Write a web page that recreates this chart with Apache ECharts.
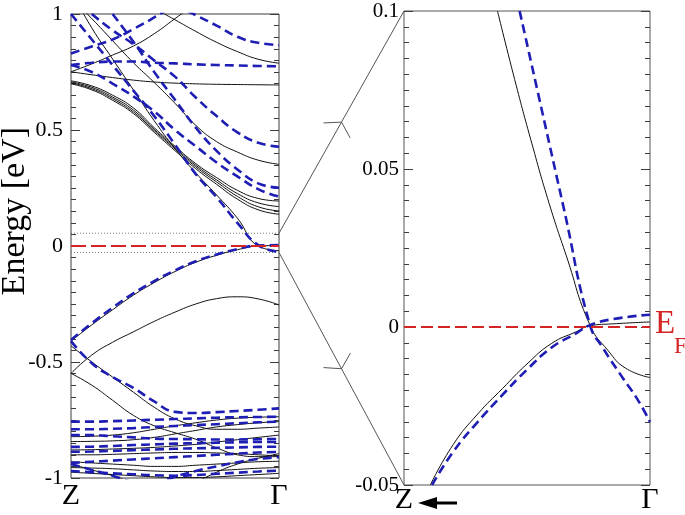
<!DOCTYPE html>
<html><head><meta charset="utf-8">
<script src="https://cdn.jsdelivr.net/npm/echarts@6/dist/echarts.min.js"></script>
<style>html,body{margin:0;padding:0;background:#fff}#c{width:685px;height:515px}</style>
</head><body><div id="c"></div>
<script>
// ---------- data: left panel (k from Z=0 to Gamma=1) ----------
const K = [0, 0.1, 0.2, 0.3, 0.4, 0.5, 0.6, 0.7, 0.8, 0.9, 1.0];
const X_LABELS = ['Z', 'Γ'];
const LEFT_TICKS = [-1, -0.5, 0, 0.5, 1];
const RIGHT_TICKS = [-0.05, 0, 0.05, 0.1];
const FERMI = 0;
const BOX = [0.055, -0.028];

// black (solid) bands
const B1  = [0.751, 0.785, 0.823, 0.862, 0.915, 0.98, 1.045, 1.11, null, null, null];
const B2  = [null, null, null, 1.08, 1.025, 0.975, 0.925, 0.878, 0.838, 0.805, 0.788];
const B3  = [0.751, 0.738, 0.726, 0.715, 0.707, 0.702, 0.699, 0.697, 0.696, 0.695, 0.694];
const L1  = [0.712, 0.69, 0.65, 0.595, 0.51, 0.43, 0.355, 0.295, 0.24, 0.205, 0.194];
const L2  = [0.707, 0.684, 0.642, 0.586, 0.503, 0.424, 0.348, 0.285, 0.226, 0.186, 0.17];
const L3  = [0.703, 0.678, 0.635, 0.578, 0.497, 0.418, 0.341, 0.276, 0.214, 0.169, 0.151];
const L4  = [0.699, 0.673, 0.628, 0.571, 0.49, 0.411, 0.333, 0.266, 0.202, 0.156, 0.137];
const B5  = [1.07, 0.98, 0.885, 0.79, 0.705, 0.615, 0.52, 0.45, 0.405, 0.37, 0.352];
const CB  = [1.1, 0.94, 0.806, 0.673, 0.54, 0.42, 0.315, 0.22, 0.12, 0.0, -0.02];
const VB1 = [-0.41, -0.34, -0.275, -0.212, -0.158, -0.11, -0.07, -0.04, -0.016, 0.0, 0.002];
const VB2 = [-0.549, -0.47, -0.415, -0.37, -0.325, -0.285, -0.25, -0.227, -0.219, -0.228, -0.254];
const VB3 = [-0.43, -0.50, -0.565, -0.63, -0.695, -0.745, -0.775, -0.79, -0.79, -0.785, -0.78];
const VB4 = [-0.549, -0.60, -0.665, -0.73, -0.775, -0.805, -0.833, -0.87, -0.9, -0.908, -0.908];
const K1  = [-0.822, -0.82, -0.815, -0.805, -0.79, -0.775, -0.762, -0.75, -0.742, -0.738, -0.736];
const K2  = [-0.843, -0.842, -0.84, -0.835, -0.825, -0.81, -0.795, -0.78, -0.77, -0.762, -0.757];
const K3  = [-0.879, -0.878, -0.875, -0.872, -0.868, -0.862, -0.855, -0.845, -0.835, -0.825, -0.815];
const K4  = [-0.90, -0.90, -0.898, -0.895, -0.892, -0.89, -0.89, -0.892, -0.895, -0.9, -0.905];
const K5  = [null, null, null, null, null, null, -1.02, -0.975, -0.94, -0.915, -0.895];
const K6  = [-0.93, -0.935, -0.94, -0.945, -0.95, -0.95, -0.945, -0.94, -0.935, -0.93, -0.928];
const K7  = [-0.955, -0.957, -0.96, -0.965, -0.97, -0.972, -0.972, -0.968, -0.963, -0.958, -0.955];
const K8  = [-0.975, -0.98, -0.985, -0.99, -0.995, -0.998, -0.998, -0.995, -0.99, -0.985, -0.98];
const K9  = [-0.94, -0.965, -0.99, -1.02, null, null, null, null, null, null, null];

// blue (dashed) bands
const D1  = [0.83, 0.86, 0.89, 0.935, 0.985, 1.04, null, null, null, null, null];
const D2  = [null, null, null, null, null, 1.04, 0.995, 0.95, 0.902, 0.876, 0.866];
const D3  = [0.78, 0.79, 0.795, 0.795, 0.79, 0.787, 0.783, 0.78, 0.778, 0.776, 0.775];
const D4  = [null, 1.0, 0.93, 0.87, 0.80, 0.73, 0.64, 0.56, 0.49, 0.445, 0.428];
const D5  = [0.78, 0.75, 0.70, 0.645, 0.58, 0.50, 0.43, 0.36, 0.30, 0.245, 0.213];
const D6  = [null, null, 1.0, 0.88, 0.75, 0.63, 0.51, 0.41, 0.33, 0.27, 0.251];
const D7  = [1.0, 0.89, 0.78, 0.67, 0.56, 0.437, 0.31, 0.21, 0.10, 0.004, -0.025];
const DV1 = [-0.405, -0.333, -0.266, -0.204, -0.151, -0.105, -0.066, -0.037, -0.013, 0.002, 0.004];
const DV3 = [-0.41, -0.505, -0.565, -0.612, -0.67, -0.715, -0.72, -0.716, -0.711, -0.706, -0.70];
const BL1 = [-0.757, -0.757, -0.755, -0.752, -0.749, -0.746, -0.743, -0.74, -0.738, -0.737, -0.736];
const BL2 = [-0.79, -0.79, -0.788, -0.785, -0.78, -0.776, -0.772, -0.768, -0.764, -0.76, -0.757];
const BL3 = [-0.866, -0.865, -0.862, -0.858, -0.855, -0.852, -0.85, -0.848, -0.846, -0.845, -0.845];
const BL4 = [-0.887, -0.886, -0.883, -0.88, -0.877, -0.874, -0.872, -0.87, -0.868, -0.866, -0.865];
const BL5 = [-0.935, -0.93, -0.925, -0.92, -0.915, -0.91, -0.905, -0.9, -0.895, -0.89, -0.888];
const BL6 = [-0.94, -0.965, -0.99, -1.02, null, null, null, null, null, null, null];
const BL7 = [null, null, null, null, -1.03, -0.995, -0.97, -0.95, -0.932, -0.918, -0.91];
const BL8 = [-0.97, -0.975, -0.98, -0.984, -0.988, -0.99, -0.987, -0.982, -0.977, -0.972, -0.968];
const BL9 = [-0.815, -0.815, -0.82, -0.825, -0.83, -0.832, -0.833, -0.834, -0.834, -0.833, -0.832];

// ---------- data: right panel (zoom near Gamma) ----------
const R_CB_K  = [0.38, 0.45, 0.52, 0.59, 0.66, 0.756, 0.83, 0.9, 1.0];
const R_CB_E  = [0.1, 0.0783, 0.058, 0.0391, 0.0225, 0.0006, -0.0075, -0.013, -0.016];
const R_VB_K  = [0.107, 0.2, 0.3, 0.4, 0.5, 0.6, 0.7, 0.756, 0.85, 1.0];
const R_VB_E  = [-0.05, -0.0372, -0.0275, -0.0195, -0.0117, -0.0052, -0.0015, 0.0004, 0.001, 0.0016];
const R_DCB_K = [0.47, 0.55, 0.65, 0.756, 0.81, 0.89, 0.946, 1.0];
const R_DCB_E = [0.1, 0.0722, 0.0374, 0.0006, -0.0068, -0.0162, -0.0225, -0.030];
const R_DVB_K = [0.114, 0.2, 0.3, 0.4, 0.5, 0.6, 0.7, 0.756, 0.85, 1.0];
const R_DVB_E = [-0.05, -0.0395, -0.03, -0.0215, -0.0135, -0.0065, -0.002, 0.0006, 0.0025, 0.0039];

const BLACK_LEFT = [B1, B2, B3, L1, L2, L3, L4, B5, CB, VB1, VB2, VB3, VB4, K1, K2, K3, K4, K5, K6, K7, K8, K9];
const BLUE_LEFT = [D1, D2, D3, D4, D5, D6, D7, DV1, DV3, BL1, BL2, BL3, BL4, BL5, BL6, BL7, BL8, BL9];

// ---------- styling ----------
const SERIF = '"Liberation Serif", "DejaVu Serif", serif';
const BLACK = '#111111';
const BLUE = '#1e1eb4';
const RED = '#d42424';
const FRAME = '#3c3c3c';

function pairs(xs, ys) {
  const out = [];
  for (let i = 0; i < xs.length; i++) if (ys[i] != null) out.push([xs[i], ys[i]]);
  return out;
}
function blackLine(xs, ys, xi, yi) {
  return { type: 'line', xAxisIndex: xi, yAxisIndex: yi, data: pairs(xs, ys), symbol: 'none',
    smooth: 0.5, clip: true, silent: true, z: 2,
    lineStyle: { color: BLACK, width: 1 } };
}
function blueLine(xs, ys, xi, yi) {
  return { type: 'line', xAxisIndex: xi, yAxisIndex: yi, data: pairs(xs, ys), symbol: 'none',
    smooth: 0.5, clip: true, silent: true, z: 3,
    lineStyle: { color: BLUE, width: 2.6, type: [9, 5] } };
}
function flatLine(y, xi, yi, style, z) {
  return { type: 'line', xAxisIndex: xi, yAxisIndex: yi, data: [[K[0], y], [K[K.length - 1], y]],
    symbol: 'none', silent: true, z: z, lineStyle: style };
}

const series = [];
BLACK_LEFT.forEach(b => series.push(blackLine(K, b, 0, 0)));
BLUE_LEFT.forEach(b => series.push(blueLine(K, b, 0, 0)));
BOX.forEach(v => series.push(flatLine(v, 0, 0, { color: '#777', width: 1, type: [1, 2] }, 1)));
series.push(flatLine(FERMI, 0, 0, { color: RED, width: 2, type: [15, 5] }, 5));
series.push(blackLine(R_CB_K, R_CB_E, 1, 2));
series.push(blackLine(R_VB_K, R_VB_E, 1, 2));
series.push(blueLine(R_DCB_K, R_DCB_E, 1, 2));
series.push(blueLine(R_DVB_K, R_DVB_E, 1, 2));
series.push(flatLine(FERMI, 1, 2, { color: RED, width: 2, type: [12, 5] }, 5));

function yAxisDef(grid, min, max, interval, pos, showLabel) {
  return {
    gridIndex: grid, type: 'value', min: min, max: max, interval: interval, position: pos,
    axisLine: { show: false },
    axisTick: { show: true, inside: true, length: 9, lineStyle: { color: FRAME, width: 1 } },
    minorTick: { show: true, splitNumber: 10, length: 5, lineStyle: { color: FRAME, width: 1 } },
    splitLine: { show: false }, minorSplitLine: { show: false },
    axisLabel: { show: showLabel, fontFamily: SERIF, fontSize: grid === 0 ? 22 : 21, color: '#000', margin: grid === 0 ? 8 : 5 }
  };
}
function xAxisDef(grid, margin) {
  return {
    gridIndex: grid, type: 'value', min: K[0], max: K[K.length - 1], interval: 1,
    axisLine: { show: false }, axisTick: { show: false }, splitLine: { show: false },
    axisLabel: { fontFamily: SERIF, fontSize: 30, color: '#000', margin: margin,
      formatter: v => (v === 0 ? X_LABELS[0] : X_LABELS[1]) }
  };
}

const chart = echarts.init(document.getElementById('c'));
chart.setOption({
  animation: false,
  backgroundColor: '#fff',
  grid: [
    { left: 71, top: 14, width: 208, height: 464, show: true, borderColor: FRAME, borderWidth: 1 },
    { left: 404, top: 11, width: 246, height: 476, show: true, borderColor: '#555', borderWidth: 1 }
  ],
  xAxis: [xAxisDef(0, 3), xAxisDef(1, 0)],
  yAxis: [
    yAxisDef(0, LEFT_TICKS[0], LEFT_TICKS[LEFT_TICKS.length - 1], 0.5, 'left', true),
    yAxisDef(0, LEFT_TICKS[0], LEFT_TICKS[LEFT_TICKS.length - 1], 0.5, 'right', false),
    yAxisDef(1, RIGHT_TICKS[0], RIGHT_TICKS[RIGHT_TICKS.length - 1], 0.05, 'left', true),
    yAxisDef(1, RIGHT_TICKS[0], RIGHT_TICKS[RIGHT_TICKS.length - 1], 0.05, 'right', false)
  ],
  series: series
});

// ---------- decorations placed from the axes ----------
const toL = p => chart.convertToPixel({ xAxisIndex: 0, yAxisIndex: 0 }, p);
const toR = p => chart.convertToPixel({ xAxisIndex: 1, yAxisIndex: 2 }, p);
const topA = toL([1, BOX[0]]), topB = toR([0, RIGHT_TICKS[RIGHT_TICKS.length - 1]]);
const botA = toL([1, BOX[1]]), botB = toR([0, RIGHT_TICKS[0]]);
const zeroR = toR([1, FERMI]);

function arrowHead(a, b) {
  const mx = (a[0] + b[0]) / 2, my = (a[1] + b[1]) / 2;
  const back = Math.atan2(a[1] - b[1], a[0] - b[0]);
  const L = 18, spread = 58 * Math.PI / 180;
  return [
    [mx + L * Math.cos(back + spread), my + L * Math.sin(back + spread)],
    [mx, my],
    [mx + L * Math.cos(back - spread), my + L * Math.sin(back - spread)]
  ];
}
const gstyle = { stroke: '#555', lineWidth: 1, fill: null };
const axisNameCenter = toL([0, 0.15]);
chart.setOption({
  graphic: [
    { type: 'line', shape: { x1: topA[0], y1: topA[1], x2: topB[0], y2: topB[1] }, style: gstyle, silent: true },
    { type: 'line', shape: { x1: botA[0], y1: botA[1], x2: botB[0], y2: botB[1] }, style: gstyle, silent: true },
    { type: 'polyline', shape: { points: arrowHead(topA, topB) }, style: gstyle, silent: true },
    { type: 'polyline', shape: { points: arrowHead(botA, botB) }, style: gstyle, silent: true },
    { type: 'text', x: 15, y: axisNameCenter[1], rotation: Math.PI / 2, silent: true,
      style: { text: 'Energy [eV]', fontFamily: SERIF, fontSize: 34, fill: '#000', align: 'center', verticalAlign: 'middle' } },
    { type: 'text', x: zeroR[0] + 5, y: zeroR[1] - 3, silent: true,
      style: { text: 'E', fontFamily: SERIF, fontSize: 33, fill: RED, align: 'left', verticalAlign: 'middle' } },
    { type: 'text', x: zeroR[0] + 24, y: zeroR[1] + 20, silent: true,
      style: { text: 'F', fontFamily: SERIF, fontSize: 23, fill: RED, align: 'left', verticalAlign: 'middle' } },
    { type: 'polygon', shape: { points: [[botB[0] + 14, botB[1] + 18], [botB[0] + 33, botB[1] + 12], [botB[0] + 33, botB[1] + 24]] },
      style: { fill: '#000' }, silent: true },
    { type: 'line', shape: { x1: botB[0] + 30, y1: botB[1] + 18, x2: botB[0] + 53, y2: botB[1] + 18 },
      style: { stroke: '#000', lineWidth: 3 }, silent: true }
  ]
});
</script>
</body></html>
